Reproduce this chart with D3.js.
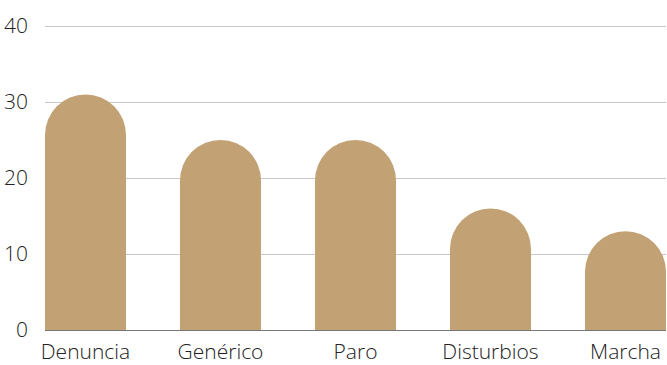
<!DOCTYPE html>
<html><head><meta charset="utf-8">
<script src="https://cdn.jsdelivr.net/npm/d3@7"></script>
<style>body{margin:0;background:#fff}svg{display:block}</style>
</head><body>
<svg id="c" width="667" height="365"></svg>
<script>
const categories = ["Denuncia","Genérico","Paro","Disturbios","Marcha"];
const values = [31,25,25,16,13];
const yTicks = [0,10,20,30,40];

const svg = d3.select("#c");
const x = d3.scaleBand().domain(categories).range([45,666]).paddingInner(0.4).paddingOuter(0);
const y = d3.scaleLinear().domain([0,40]).range([330,26]);
const font = "'Open Sans', sans-serif";

// grid
svg.append("g").selectAll("line").data(yTicks.filter(d=>d>0)).join("line")
  .attr("x1",45).attr("x2",666).attr("y1",d=>y(d)+0.5).attr("y2",d=>y(d)+0.5)
  .attr("stroke","#c8c8c8").attr("stroke-width",1);

// y labels
svg.append("g").selectAll("text").data(yTicks).join("text")
  .attr("x",28).attr("y",d=>y(d)).attr("dy","0.35em").attr("text-anchor","end")
  .attr("font-family",font).attr("font-weight",300).attr("font-size",21).attr("fill","#222")
  .text(d=>d);

// bars with rounded top
const w = x.bandwidth(), r = w/2;
svg.append("g").selectAll("path").data(values).join("path")
  .attr("fill","#c2a274")
  .attr("d",(v,i)=>{
    const x0 = x(categories[i]), yb = y(0), yt = y(v);
    return `M${x0},${yb} L${x0},${yt+r} A${r},${r} 0 0 1 ${x0+w},${yt+r} L${x0+w},${yb} Z`;
  });

// axis line
svg.append("line").attr("x1",45).attr("x2",666).attr("y1",y(0)+0.5).attr("y2",y(0)+0.5)
  .attr("stroke","#777").attr("stroke-width",1);

// x labels
svg.append("g").selectAll("text").data(categories).join("text")
  .attr("x",d=>x(d)+w/2).attr("y",359).attr("text-anchor","middle")
  .attr("font-family",font).attr("font-weight",300).attr("font-size",21).attr("fill","#222")
  .text(d=>d);
</script>
</body></html>
